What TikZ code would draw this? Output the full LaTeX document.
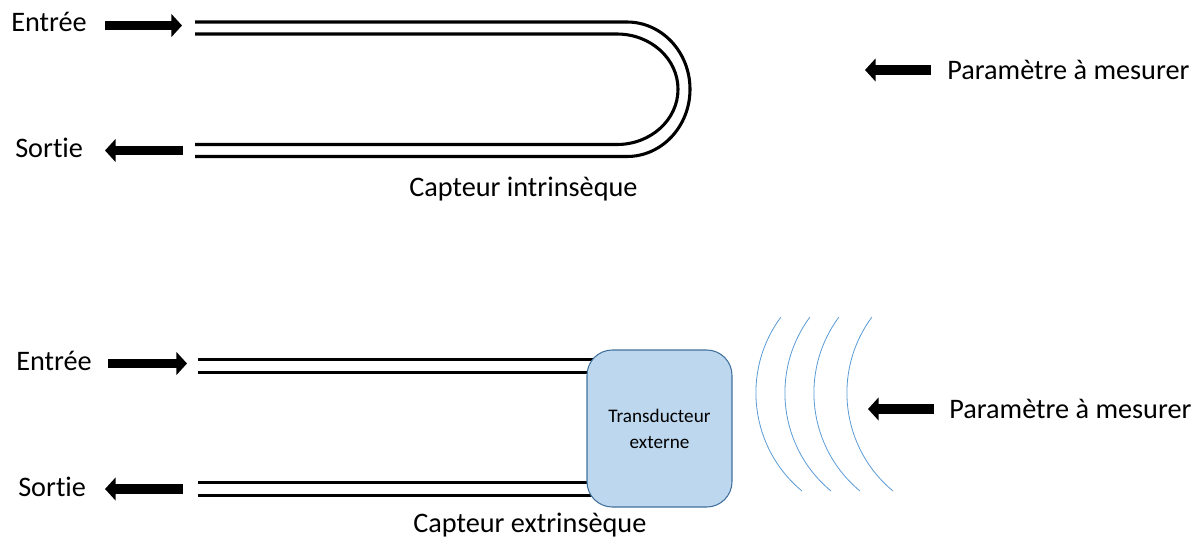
\documentclass[tikz,border=0pt]{standalone}
\usepackage{fontspec}
\setmainfont{Carlito}[Ligatures=NoCommon]
\usetikzlibrary{arrows.meta}
\definecolor{boxfill}{HTML}{BDD7EE}
\definecolor{boxdraw}{HTML}{41719C}
\definecolor{wave}{HTML}{5B9BD5}
\tikzset{
  lbl/.style={anchor=base west, inner sep=0pt, font=\fontsize{21.2pt}{25pt}\selectfont},
  blockarrow/.style={line width=6.8pt, -{Triangle[length=8pt,width=17pt]}},
  fibre/.style={line width=2.3pt},
  wavearc/.style={wave, line width=0.6pt},
  transbox/.style={draw=boxdraw, fill=boxfill, line width=0.8pt, rounded corners=19pt,
    minimum width=108.75pt, minimum height=117.75pt, align=center,
    font=\fontsize{14.4pt}{19.5pt}\selectfont}
}
\begin{document}
\begin{tikzpicture}[x=0.75pt,y=0.75pt]
\useasboundingbox (0,0) rectangle (1203,-543);
% ---------- top: intrinsic sensor ----------
\node[lbl] (in1) at (11,-31) {Entrée};
\node[lbl] (out1) at (15,-157) {Sortie};
\node[lbl] (cap1) at (409,-196) {Capteur intrinsèque};
\node[lbl] (par1) at (947,-79) {Paramètre à mesurer};
\coordinate (a1s) at (105,-25.5);
\coordinate (a1e) at (182,-25.5);
\coordinate (b1s) at (183,-150.5);
\coordinate (b1e) at (105,-150.5);
\coordinate (c1s) at (931,-70);
\coordinate (c1e) at (865,-70);
\draw[blockarrow] (a1s) -- (a1e);
\draw[blockarrow] (b1s) -- (b1e);
\draw[blockarrow] (c1s) -- (c1e);
\coordinate (f1a) at (195,-22);
\coordinate (f1b) at (195,-34);
\draw[fibre] (f1a) -- (627,-22) arc[start angle=90,end angle=-90,x radius=63,y radius=67.25] -- (195,-156.5);
\draw[fibre] (f1b) -- (617,-34) arc[start angle=90,end angle=-90,x radius=61,y radius=55.25] -- (195,-144.5);
% ---------- bottom: extrinsic sensor ----------
\node[lbl] (in2) at (16,-370) {Entrée};
\node[lbl] (out2) at (18,-496) {Sortie};
\node[lbl] (cap2) at (413,-532) {Capteur extrinsèque};
\node[lbl] (par2) at (949,-418) {Paramètre à mesurer};
\coordinate (a2s) at (108,-363.5);
\coordinate (a2e) at (187,-363.5);
\coordinate (b2s) at (183,-489);
\coordinate (b2e) at (105,-489);
\coordinate (c2s) at (934,-409);
\coordinate (c2e) at (868,-409);
\draw[blockarrow] (a2s) -- (a2e);
\draw[blockarrow] (b2s) -- (b2e);
\draw[blockarrow] (c2s) -- (c2e);
\coordinate (g1) at (198,-359.5);
\coordinate (g2) at (198,-372.5);
\coordinate (g3) at (198,-482.5);
\coordinate (g4) at (198,-495.5);
\draw[fibre] (g1) -- (600,-359.5);
\draw[fibre] (g2) -- (600,-372.5);
\draw[fibre] (g3) -- (600,-482.5);
\draw[fibre] (g4) -- (600,-495.5);
\node[transbox] (td) at (659.5,-428.5) {Transducteur\\externe};
% waves
\foreach \dx in {0,29,58,91}{
  \draw[wavearc] (883.4+\dx,-392.9) ++(143.5:127.5) arc[start angle=143.5,end angle=230.3,radius=127.5];
}
\end{tikzpicture}
\end{document}
